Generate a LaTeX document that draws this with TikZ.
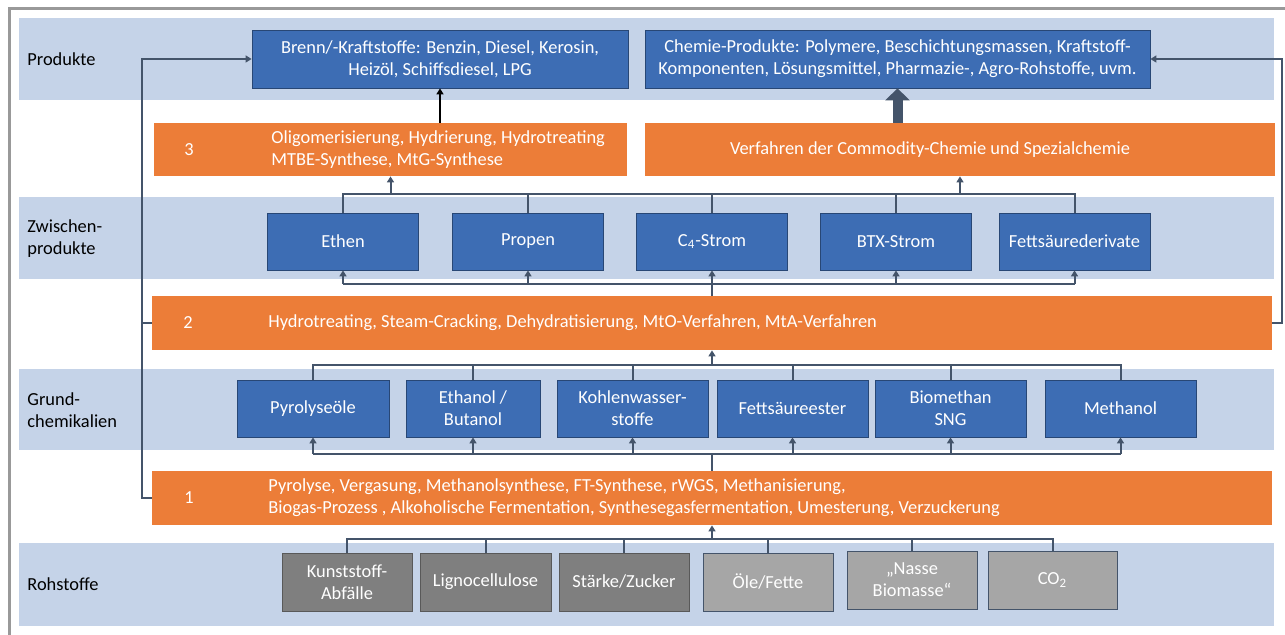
\documentclass[tikz,border=0pt]{standalone}
\usepackage{fontspec}
\setmainfont{Carlito}
\usetikzlibrary{arrows.meta}
\definecolor{bandblue}{RGB}{197,211,232}
\definecolor{boxblue}{RGB}{61,109,180}
\definecolor{boxorange}{RGB}{236,125,56}
\definecolor{rohdark}{RGB}{127,127,127}
\definecolor{rohlight}{RGB}{166,166,166}
\definecolor{linkblue}{RGB}{68,84,106}
\begin{document}
\begin{tikzpicture}[x=0.5pt, y=-0.5pt,
  every node/.style={font=\fontsize{9.2}{11}\selectfont},
  wh/.style 2 args={minimum width=#1*0.5pt, minimum height=#2*0.5pt},
  prod/.style={draw=boxblue!65!black, fill=boxblue, text=white, align=center, inner sep=1pt},
  proc/.style={fill=boxorange, text=white, align=center, inner sep=1pt},
  rohd/.style={draw=black!65, fill=rohdark, text=white, align=center, inner sep=1pt},
  rohl/.style={draw=linkblue, fill=rohlight, text=white, align=center, inner sep=1pt},
  rowlabel/.style={anchor=west, align=left, inner sep=0pt},
  link/.style={draw=linkblue, line width=1pt},
  tip/.style={-{Triangle[length=3pt, width=3.5pt]}}]
\useasboundingbox (0,0) rectangle (1285,635);
% frame and bands
\draw[black!40, line width=1.5pt] (9,640) -- (9,9) -- (1290,9);
\fill[bandblue] (19,18) rectangle (1274,100);
\fill[bandblue] (19,197) rectangle (1274,279);
\fill[bandblue] (19,369) rectangle (1274,450);
\fill[bandblue] (19,543) rectangle (1274,626);
\node[rowlabel] (lprod) at (27,59) {Produkte};
\node[rowlabel] (lzw) at (27,239) {Zwischen-\\produkte};
\node[rowlabel] (lgr) at (27,410) {Grund-\\chemikalien};
\node[rowlabel] (lroh) at (27,584) {Rohstoffe};
% products
\node[prod, wh={376}{58}] (brenn) at (440,59) {Brenn/-Kraftstoffe: Benzin, Diesel, Kerosin,\\Heizöl, Schiffsdiesel, LPG};
\node[prod, wh={505}{58}] (chemie) at (897.5,59) {Chemie-Produkte: Polymere, Beschichtungsmassen, Kraftstoff-\\Komponenten, Lösungsmittel, Pharmazie-, Agro-Rohstoffe, uvm.};
% processes
\node[proc, wh={473}{53}] (p3) at (390.5,149.5) {};
\node[text=white] (n3) at (189,149.5) {3};
\node[rowlabel, text=white] (t3) at (271,149.5) {Oligomerisierung, Hydrierung, Hydrotreating\\MTBE-Synthese, MtG-Synthese};
\node[proc, wh={630}{53}] (vf) at (960,149.5) {\hspace*{-30pt}Verfahren der Commodity-Chemie und Spezialchemie};
\node[proc, wh={1120}{54}] (p2) at (712,323) {};
\node[text=white] (n2) at (188,323) {2};
\node[rowlabel, text=white] (t2) at (268,323) {Hydrotreating, Steam-Cracking, Dehydratisierung, MtO-Verfahren, MtA-Verfahren};
\node[proc, wh={1120}{54}] (p1) at (712,498) {};
\node[text=white] (n1) at (189,498) {1};
\node[rowlabel, text=white] (t1) at (268,498) {Pyrolyse, Vergasung, Methanolsynthese, FT-Synthese, rWGS, Methanisierung,\\Biogas-Prozess , Alkoholische Fermentation, Synthesegasfermentation, Umesterung, Verzuckerung};
% intermediates
\node[prod, wh={151}{57}] (ethen) at (343,241.5) {Ethen};
\node[prod, wh={151}{57}] (propen) at (528,241.5) {Propen};
\node[prod, wh={151}{57}] (c4) at (712,241.5) {C\textsubscript{4}-Strom};
\node[prod, wh={151}{57}] (btx) at (896,241.5) {BTX-Strom};
\node[prod, wh={151}{57}] (fett) at (1074.5,241.5) {Fettsäurederivate};
% base chemicals
\node[prod, wh={152}{57}] (pyro) at (313,408.5) {Pyrolyseöle};
\node[prod, wh={134}{57}] (etoh) at (473,408.5) {Ethanol /\\Butanol};
\node[prod, wh={151}{57}] (kw) at (632.5,408.5) {Kohlenwasser-\\stoffe};
\node[prod, wh={151}{57}] (fse) at (792.5,408.5) {Fettsäureester};
\node[prod, wh={151}{57}] (bio) at (950.5,408.5) {Biomethan\\SNG};
\node[prod, wh={151}{57}] (meoh) at (1120.5,408.5) {Methanol};
% raw materials
\node[rohd, wh={130}{58}] (kunst) at (347,582) {Kunststoff-\\Abfälle};
\node[rohd, wh={131}{58}] (ligno) at (485.5,582) {Lignocellulose};
\node[rohd, wh={130}{58}] (staerke) at (624,582) {Stärke/Zucker};
\node[rohl, wh={130}{58}] (oele) at (768,582) {Öle/Fette};
\node[rohl, wh={130}{58}] (nasse) at (912,580) {„Nasse\\Biomasse“};
\node[rohl, wh={129}{58}] (co2) at (1052.5,580) {CO\textsubscript{2}};
% brackets
\coordinate (zo) at (0,194);
\coordinate (zu) at (0,284);
\coordinate (go) at (0,365);
\coordinate (gu) at (0,454);
\coordinate (ro) at (0,539);
\draw[link] (ethen.north) |- (zo -| fett.north) -- (fett.north);
\foreach \n in {propen,c4,btx} \draw[link] (\n.north) -- (\n.north |- zo);
\draw[link, tip] (p3.south |- zo) -- (p3.south);
\draw[link, tip] (vf.south |- zo) -- (vf.south);
\draw[link] (ethen.south |- zu) -- (fett.south |- zu);
\foreach \n in {ethen,propen,c4,btx,fett} \draw[link, tip] (\n.south |- zu) -- (\n.south);
\draw[link] (p2.north) -- (p2.north |- zu);
\draw[link] (pyro.north) |- (go -| meoh.north) -- (meoh.north);
\foreach \n in {etoh,kw,fse,bio} \draw[link] (\n.north) -- (\n.north |- go);
\draw[link, tip] (p2.south |- go) -- (p2.south);
\draw[link] (pyro.south |- gu) -- (meoh.south |- gu);
\foreach \n in {pyro,etoh,kw,fse,bio,meoh} \draw[link, tip] (\n.south |- gu) -- (\n.south);
\draw[link] (p1.north) -- (p1.north |- gu);
\draw[link] (kunst.north) |- (ro -| co2.north) -- (co2.north);
\foreach \n in {ligno,staerke,oele,nasse} \draw[link] (\n.north) -- (\n.north |- ro);
\draw[link, tip] (p1.south |- ro) -- (p1.south);
% to products
\draw[black, line width=1pt, tip] (brenn.south |- p3.north) -- (brenn.south);
\draw[linkblue, line width=5pt, -{Triangle[length=6pt, width=12pt]}] (chemie.south |- vf.north) -- (chemie.south);
% loops
\coordinate (lx) at (142,0);
\coordinate (rx) at (1282,0);
\draw[link, tip] (p1.west) -| (lx |- brenn.west) -- (brenn.west);
\draw[link] (p2.west) -- (lx |- p2.west);
\draw[link, tip] (p2.east) -| (rx |- chemie.east) -- (chemie.east);
\end{tikzpicture}
\end{document}
